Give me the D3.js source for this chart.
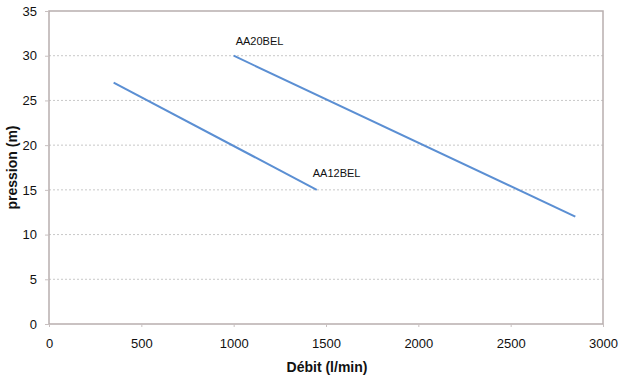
<!DOCTYPE html>
<html><head><meta charset="utf-8">
<script src="https://cdn.jsdelivr.net/npm/d3@7/dist/d3.min.js"></script>
<style>body{margin:0;background:#fff}svg{display:block}text{font-family:"Liberation Sans",Arial,sans-serif}</style>
</head><body>
<svg id="c" width="623" height="379"></svg>
<script>
const xTicks = [0, 500, 1000, 1500, 2000, 2500, 3000];
const yTicks = [0, 5, 10, 15, 20, 25, 30, 35];
const seriesNames = ["AA12BEL", "AA20BEL"];
const aa12Debit = [350, 1450];
const aa12Pression = [27, 15];
const aa20Debit = [1000, 2850];
const aa20Pression = [30, 12];

const svg = d3.select("#c");
const L = 49, R = 603, T = 11, B = 324;
const x = d3.scaleLinear().domain([0, 3000]).range([L, R]);
const y = d3.scaleLinear().domain([0, 35]).range([B, T]);

// gridlines
svg.append("g").selectAll("line").data(yTicks.filter(d => d > 0 && d < 35)).join("line")
  .attr("x1", L).attr("x2", R).attr("y1", d => y(d)).attr("y2", d => y(d))
  .attr("stroke", "#c8c8c8").attr("stroke-width", 1).attr("stroke-dasharray", "2,2");

// plot border
svg.append("rect").attr("x", L).attr("y", T).attr("width", R - L).attr("height", B - T)
  .attr("fill", "none").attr("stroke", "#b8aeae").attr("stroke-width", 1.5);

// axes
const xAxis = svg.append("g").attr("transform", `translate(0,${B})`)
  .call(d3.axisBottom(x).tickValues(xTicks).tickFormat(d3.format("d")).tickSize(3).tickPadding(12));
const yAxis = svg.append("g").attr("transform", `translate(${L},0)`)
  .call(d3.axisLeft(y).tickValues(yTicks).tickFormat(d3.format("d")).tickSize(4).tickPadding(8));
[xAxis, yAxis].forEach(a => {
  a.select(".domain").remove();
  a.selectAll(".tick line").attr("stroke", "#c8c0c0");
  a.selectAll("text").attr("font-size", 13).attr("fill", "#111")
    .attr("font-family", '"Liberation Sans",Arial,sans-serif');
});

// lines
const line = d3.line().x(d => x(d[0])).y(d => y(d[1]));
const series = [
  { name: seriesNames[0], pts: d3.zip(aa12Debit, aa12Pression) },
  { name: seriesNames[1], pts: d3.zip(aa20Debit, aa20Pression) }
];
svg.append("g").selectAll("path").data(series).join("path")
  .attr("d", d => line(d.pts)).attr("fill", "none")
  .attr("stroke", "#5b8fd3").attr("stroke-width", 2);

// labels
svg.append("text").attr("x", x(1450) - 4).attr("y", y(15) - 13)
  .attr("font-size", 11).attr("fill", "#111").text(seriesNames[0]);
svg.append("text").attr("x", x(1000) + 2).attr("y", y(30) - 11)
  .attr("font-size", 11).attr("fill", "#111").text(seriesNames[1]);

// titles
svg.append("text").attr("x", (L + R) / 2 + 1).attr("y", 372).attr("text-anchor", "middle")
  .attr("font-size", 14).attr("font-weight", "bold").attr("fill", "#111").text("Débit (l/min)");
svg.append("text").attr("transform", `translate(17,${(T + B) / 2}) rotate(-90)`)
  .attr("text-anchor", "middle").attr("font-size", 14).attr("font-weight", "bold")
  .attr("fill", "#111").text("pression (m)");
</script>
</body></html>
